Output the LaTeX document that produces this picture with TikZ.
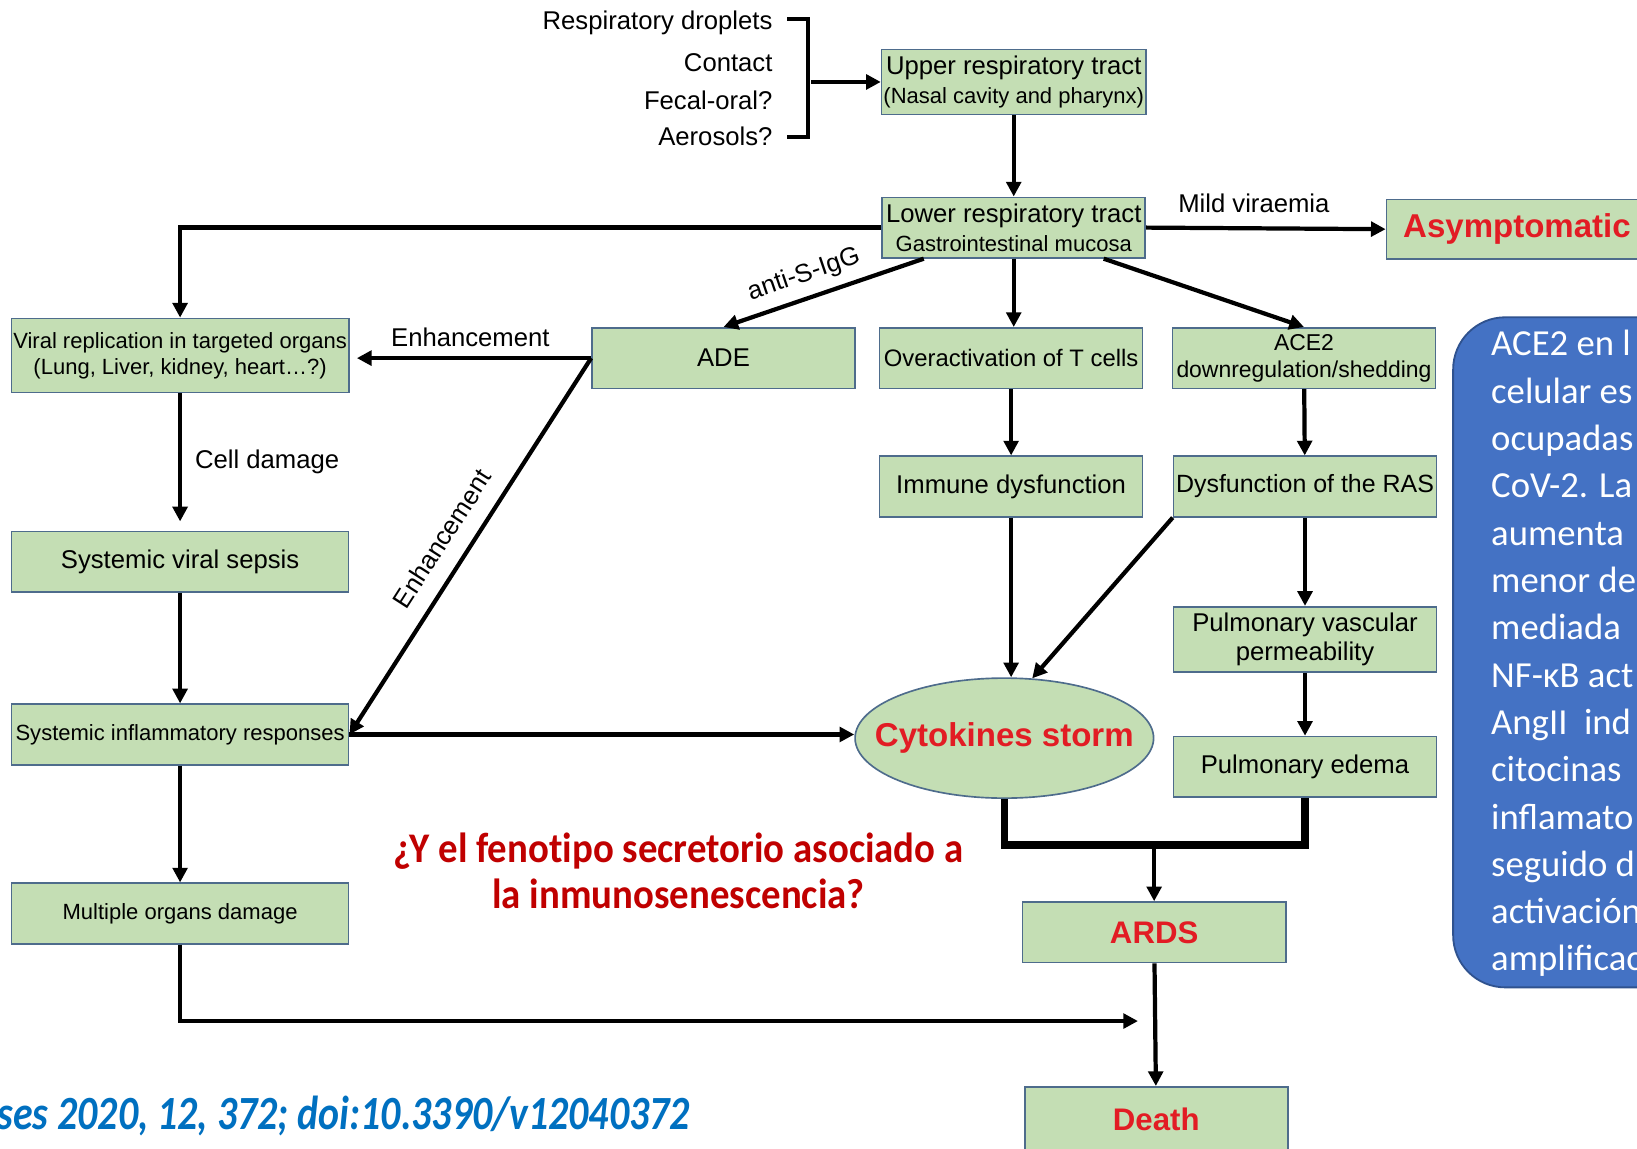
\documentclass[tikz,border=0pt]{standalone}
\usepackage{fontspec}
\setmainfont{Liberation Sans}
\newfontfamily\calibri{Carlito}
\newfontfamily\calibrinarrow[FakeStretch=0.92, Ligatures=NoCommon]{Carlito}
\newfontfamily\calibricite[FakeStretch=0.835, Ligatures=NoCommon]{Carlito}
\usetikzlibrary{arrows.meta,calc,shapes.geometric}

\definecolor{boxgreen}{RGB}{196,222,180}
\definecolor{boxedge}{RGB}{78,108,140}
\definecolor{alertred}{RGB}{226,28,36}
\definecolor{darkred}{RGB}{192,0,0}
\definecolor{notefill}{RGB}{68,114,196}
\definecolor{noteedge}{RGB}{47,82,143}
\definecolor{citeblue}{RGB}{0,112,192}

\begin{document}
\begin{tikzpicture}[x=0.02cm, y=-0.02cm,
  stage/.style={draw=boxedge, line width=0.9pt, fill=boxgreen, minimum width=5.04cm,
    minimum height=1.16cm, inner xsep=1pt, align=center, font=\fontsize{14}{16}\selectfont},
  sidebox/.style={stage, minimum width=6.46cm},
  outcome/.style={stage, text=alertred, font=\fontsize{17}{20}\selectfont\bfseries},
  lab/.style={font=\fontsize{14}{16}\selectfont, inner sep=1pt},
  arr/.style={line width=2.3pt, -{Triangle[length=8pt,width=8pt]}},
  rarr/.style={line width=2.3pt, {Triangle[length=8pt,width=8pt]}-},
]

  \useasboundingbox (0,0) rectangle (1568,1100);
  \clip (0,0) rectangle (1568,1100);
  \fill[white] (0,0) rectangle (1568,1100);

  % --- routes of entry ---
  \node[lab, anchor=east] (drop) at (742,22) {Respiratory droplets};
  \node[lab, anchor=east] (contact) at (742,60) {Contact};
  \node[lab, anchor=east] (fecal) at (742,96) {Fecal-oral?};
  \node[lab, anchor=east] (aero) at (742,131) {Aerosols?};
  \draw[line width=2pt] ($(drop.east)+(12,-4)$) -- ++(20,0) |- ($(aero.east)+(12,0)$);
  \coordinate (brace) at (777,78.5);

  % --- respiratory tract ---
  \node[stage] (upper) at (971,78.5)
    {Upper respiratory tract\\{\fontsize{12}{13}\selectfont(Nasal cavity and pharynx)}};
  \node[stage] (lower) at (971,218)
    {Lower respiratory tract\\{\fontsize{12}{13}\selectfont Gastrointestinal mucosa}};
  \node[outcome, minimum width=5cm, minimum height=1.14cm,
    font=\fontsize{18}{20}\selectfont\bfseries] (asym) at (1453,219.5) {Asymptomatic};

  % --- second row ---
  \node[stage] (ade) at (693,343) {ADE};
  \node[stage, font=\fontsize{13}{15}\selectfont] (tcell) at (968.5,343) {Overactivation of T cells};
  \node[stage, font=\fontsize{12.5}{14.5}\selectfont] (ace) at (1249,343) {ACE2\\downregulation/shedding};
  \node[sidebox, minimum height=1.42cm, font=\fontsize{12}{14}\selectfont] (viral) at (172.5,340.5)
    {Viral replication in targeted organs\\(Lung, Liver, kidney, heart\ldots?)};

  % --- third row and below ---
  \node[stage] (immune) at (968.5,466) {Immune dysfunction};
  \node[stage, font=\fontsize{13.6}{16}\selectfont] (ras) at (1250,466) {Dysfunction of the RAS};
  \node[stage] (pvp) at (1250,612.5) {Pulmonary vascular\\permeability};
  \node[stage] (edema) at (1250,734.5) {Pulmonary edema};
  \node[ellipse, draw=boxedge, line width=0.9pt, fill=boxgreen, minimum width=5.72cm,
    minimum height=2.3cm, inner sep=0pt] (storm) at (962,707) {};
  \node[text=alertred, font=\fontsize{18}{20}\selectfont\bfseries] (stormlab) at (storm) {Cytokines storm};

  % --- left column ---
  \node[sidebox] (sepsis) at (172.5,538) {Systemic viral sepsis};
  \node[sidebox, font=\fontsize{12}{14}\selectfont] (sir) at (172.5,703.5) {Systemic inflammatory responses};
  \node[sidebox, font=\fontsize{12}{14}\selectfont] (organs) at (172.5,875) {Multiple organs damage};

  % --- outcomes ---
  \node[outcome] (ards) at (1105.5,893) {ARDS};
  \node[outcome, minimum height=1.24cm] (death) at (1107.5,1072) {Death};

  % --- side note ---
  \node[draw=noteedge, line width=1pt, fill=notefill, rounded corners=1cm, anchor=north west,
    minimum width=6cm, minimum height=12.84cm] (note) at (1391,303) {};
  \node[anchor=north west, text=white, align=left, inner sep=0pt,
    font=\calibri\fontsize{20}{25.8}\selectfont] (notetext) at (1428,316)
    {ACE2 en l\\celular es\\ocupadas\\CoV-2. La\\aumenta\\menor de\\mediada\\NF-κB act\\
     AngII~ ind\\citocinas\\inflamato\\seguido d\\activación\\amplificac};

  % --- free texts ---
  \node[text=darkred, align=center, font=\calibrinarrow\bfseries\fontsize{23}{25}\selectfont] (question)
    at (650,834) {¿Y el fenotipo secretorio asociado a\\la inmunosenescencia?};
  \node[anchor=east, inner sep=0pt, text=citeblue,
    font=\calibricite\bfseries\itshape\fontsize{26}{28}\selectfont] (cite) at (661,1069)
    {ses 2020, 12, 372; doi:10.3390/v12040372};

  % --- connectors ---
  \draw[arr] (brace) -- (upper.west);
  \draw[arr] (upper) -- (lower);
  \draw[arr] (lower.west) -| (viral.north);
  \draw[arr] (lower.east) -- node[lab, above=6.5pt, pos=0.45] {Mild viraemia} (asym.west);
  \draw[rarr] (ade.north) -- node[lab, sloped, above=4pt, pos=0.44] {anti-S-IgG}
    ($(lower.south west)!0.16!(lower.south east)$);
  \draw[arr] (lower.south) -- (lower.south |- tcell.north);
  \draw[arr] ($(lower.south west)!0.84!(lower.south east)$) -- (ace.north);
  \draw[arr, shorten >=4pt] (ade.west) -- node[lab, above=4pt] {Enhancement} (ade.west -| viral.east);
  \draw[rarr] (sir.east) -- node[lab, sloped, above=8pt, pos=0.48] {Enhancement} (ade.west);
  \draw[arr] (sir.east) -- (sir.east -| storm.west);
  \draw[arr, shorten >=5pt] (viral) -- node[lab, right=6pt] {Cell damage} (sepsis);
  \draw[arr] (sepsis) -- (sir);
  \draw[arr] (sir) -- (organs);
  \coordinate (deathin) at (1090,978);
  \draw[arr] (organs.south) |- (deathin);
  \draw[arr] (tcell) -- (immune);
  \draw[arr] (ace) -- (ras);
  \draw[arr] (immune.south) -- (immune.south |- storm.north);
  \draw[arr] (ras.south west) -- (storm.65);
  \draw[arr] (ras) -- (pvp);
  \draw[arr] (pvp) -- (edema);
  \path (ards.north) ++(0,-54) coordinate (merge);
  \draw[line width=4pt] (storm.south) |- (merge) -| (edema.south);
  \draw[arr] (merge) -- (ards.north);
  \draw[arr] (ards) -- (death);

\end{tikzpicture}
\end{document}
